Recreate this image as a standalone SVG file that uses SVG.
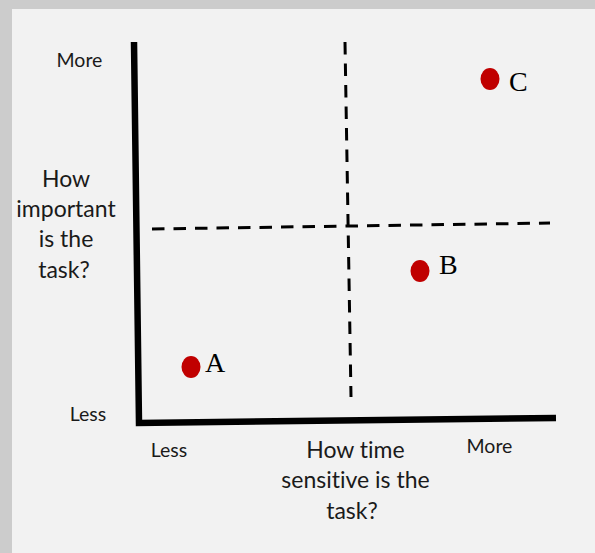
<svg xmlns="http://www.w3.org/2000/svg" width="595" height="553" viewBox="0 0 595 553">
<style>
.lab{font-family:Lato,"Open Sans","Liberation Sans",sans-serif;fill:#1a1a1a;text-anchor:middle;font-variant-ligatures:none}
.big{font-size:23px}
.sm{font-size:19.5px}
.pt{fill:#c00000}
.pl{font-family:"Liberation Serif","Times New Roman",serif;font-size:28px;fill:#000}
.dash{fill:none;stroke:#000;stroke-width:3;stroke-dasharray:12.5 9}
</style>
<rect x="0" y="0" width="595" height="553" fill="#cccccc"/>
<rect x="12" y="9" width="583" height="544" fill="#f2f2f2"/>
<g id="connectors">
<path id="axes" d="M134,42 L139,423 L556,418" fill="none" stroke="#000" stroke-width="6.5" stroke-linejoin="miter"/>
<path id="vdash" class="dash" d="M345,42 L351,397"/>
<path id="hdash" class="dash" d="M152,229 L550,223"/>
</g>
<g id="y-axis-labels">
<text class="lab sm" x="79.5" y="67">More</text>
<text class="lab sm" x="88" y="421">Less</text>
<text class="lab big" x="66" y="187">How</text>
<text class="lab big" x="66" y="217">important</text>
<text class="lab big" x="66" y="247">is the</text>
<text class="lab big" x="64" y="278">task?</text>
</g>
<g id="x-axis-labels">
<text class="lab sm" x="169" y="457">Less</text>
<text class="lab sm" x="489.5" y="453">More</text>
<text class="lab big" x="355.5" y="458">How time</text>
<text class="lab big" x="355.5" y="488">sensitive is the</text>
<text class="lab big" x="352" y="519">task?</text>
</g>
<g id="node-A">
<ellipse class="pt" cx="191" cy="367" rx="9.5" ry="11"/>
<text class="pl" x="205" y="372">A</text>
</g>
<g id="node-B">
<ellipse class="pt" cx="420" cy="271" rx="9.5" ry="11"/>
<text class="pl" x="439" y="274">B</text>
</g>
<g id="node-C">
<ellipse class="pt" cx="490" cy="79" rx="9.5" ry="11"/>
<text class="pl" x="509" y="91">C</text>
</g>
</svg>
